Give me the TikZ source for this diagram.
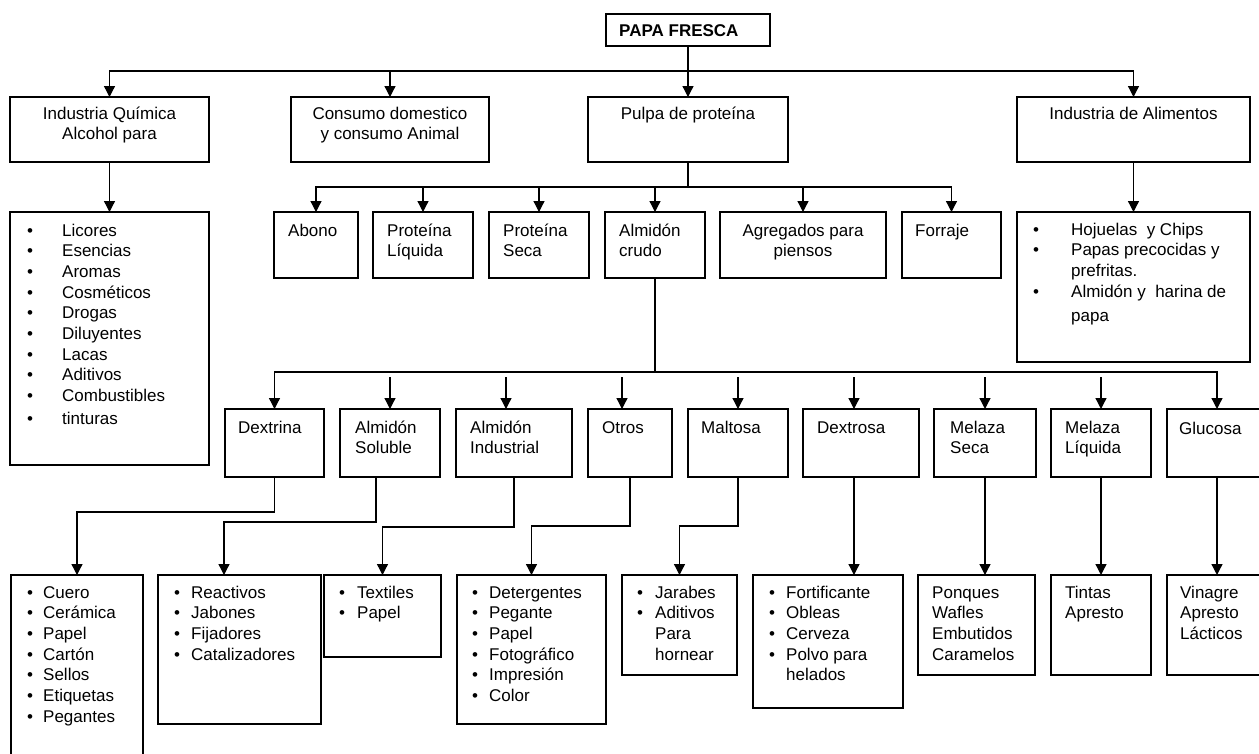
\documentclass[tikz,border=0pt]{standalone}
\usepackage{fontspec}
\setmainfont{Liberation Sans}
\usetikzlibrary{arrows.meta}
\newcommand{\punto}[1]{\makebox[#1][l]{\textbullet}}

\tikzset{
  caja/.style={draw, line width=1.3pt, inner sep=0pt, outer sep=0pt, anchor=north west},
  texto/.style={inner sep=0pt, anchor=base west, font=\fontsize{17}{20.7}\selectfont},
  centrado/.style={texto, anchor=base},
  linea/.style={line width=1.3pt},
  flecha/.style={line width=1.3pt, -{Triangle[length=11pt,width=11pt]}}
}

\begin{document}
\begin{tikzpicture}[x=1pt,y=-1pt]
    \useasboundingbox (0,0) rectangle (1259,753);
    \fill[white] (0,0) rectangle (1259,753);
    \clip (0,0) rectangle (1259,753);
    \coordinate (nivel1) at (0,71);
    \coordinate (nivel2) at (0,187);
    \coordinate (nivel3) at (0,372);

    \node[caja, minimum width=164pt, minimum height=32pt] (papa) at (606,14) {};
    \node[texto, font=\bfseries\fontsize{17}{20.7}\selectfont] (papa-txt) at ([xshift=13pt,yshift=-22pt]papa.north west) {PAPA FRESCA};

    \node[caja, minimum width=199pt, minimum height=65pt] (quimica) at (10,97) {};
    \node[caja, minimum width=198pt, minimum height=65pt] (consumo) at (291,97) {};
    \node[caja, minimum width=200pt, minimum height=65pt] (pulpa) at (588,97) {};
    \node[caja, minimum width=233pt, minimum height=65pt] (alimentos) at (1017,97) {};
    \node[centrado] (quimica-txt) at ([yshift=-22pt]quimica.north) {\begin{tabular}[t]{@{}c@{}}Industria Química\\Alcohol para\end{tabular}};
    \node[centrado] (consumo-txt) at ([yshift=-22pt]consumo.north) {\begin{tabular}[t]{@{}c@{}}Consumo domestico\\y consumo Animal\end{tabular}};
    \node[centrado] (pulpa-txt) at ([yshift=-22pt]pulpa.north) {Pulpa de proteína};
    \node[centrado] (alimentos-txt) at ([yshift=-22pt]alimentos.north) {Industria de Alimentos};

    \node[caja, minimum width=199pt, minimum height=253pt] (alcohol) at (10,212) {};
    \node[texto] (alcohol-txt) at ([xshift=17pt,yshift=-24pt]alcohol.north west) {\begin{tabular}[t]{@{}l@{}}
      \punto{35pt}Licores\\ \punto{35pt}Esencias\\ \punto{35pt}Aromas\\ \punto{35pt}Cosméticos\\
      \punto{35pt}Drogas\\ \punto{35pt}Diluyentes\\ \punto{35pt}Lacas\\ \punto{35pt}Aditivos\\
      \punto{35pt}Combustibles\\[2pt] \punto{35pt}tinturas\end{tabular}};
    \node[caja, minimum width=233pt, minimum height=150pt] (productos) at (1017,212) {};
    \node[texto] (productos-txt) at ([xshift=16pt,yshift=-23pt]productos.north west) {\begin{tabular}[t]{@{}l@{}}
      \punto{38pt}Hojuelas\ \ y Chips\\ \punto{38pt}Papas precocidas y\\ \hspace{38pt}prefritas.\\
      \punto{38pt}Almidón y\ \ harina de\\[4pt] \hspace{38pt}papa\end{tabular}};

    \node[caja, minimum width=84pt, minimum height=66pt] (abono) at (274,212) {};
    \node[caja, minimum width=100pt, minimum height=66pt] (protliq) at (373,212) {};
    \node[caja, minimum width=100pt, minimum height=66pt] (protseca) at (489,212) {};
    \node[caja, minimum width=100pt, minimum height=66pt] (crudo) at (605,212) {};
    \node[caja, minimum width=166pt, minimum height=66pt] (agregados) at (720,212) {};
    \node[caja, minimum width=99pt, minimum height=66pt] (forraje) at (902,212) {};
    \node[texto] (abono-txt) at ([xshift=14pt,yshift=-24pt]abono.north west) {Abono};
    \node[texto] (protliq-txt) at ([xshift=14pt,yshift=-24pt]protliq.north west) {\begin{tabular}[t]{@{}l@{}}Proteína\\Líquida\end{tabular}};
    \node[texto] (protseca-txt) at ([xshift=14pt,yshift=-24pt]protseca.north west) {\begin{tabular}[t]{@{}l@{}}Proteína\\Seca\end{tabular}};
    \node[texto] (crudo-txt) at ([xshift=14pt,yshift=-24pt]crudo.north west) {\begin{tabular}[t]{@{}l@{}}Almidón\\crudo\end{tabular}};
    \node[centrado] (agregados-txt) at ([yshift=-24pt]agregados.north) {\begin{tabular}[t]{@{}c@{}}Agregados para\\piensos\end{tabular}};
    \node[texto] (forraje-txt) at ([xshift=13pt,yshift=-24pt]forraje.north west) {Forraje};

    \node[caja, minimum width=99pt, minimum height=68pt] (dextrina) at (225,409) {};
    \node[caja, minimum width=100pt, minimum height=68pt] (soluble) at (340,409) {};
    \node[caja, minimum width=116pt, minimum height=68pt] (industrial) at (456,409) {};
    \node[caja, minimum width=84pt, minimum height=68pt] (otros) at (588,409) {};
    \node[caja, minimum width=100pt, minimum height=68pt] (maltosa) at (688,409) {};
    \node[caja, minimum width=116pt, minimum height=68pt] (dextrosa) at (803,409) {};
    \node[caja, minimum width=102pt, minimum height=68pt] (melseca) at (934,409) {};
    \node[caja, minimum width=100pt, minimum height=68pt] (melliq) at (1051,409) {};
    \node[caja, minimum width=100pt, minimum height=68pt] (glucosa) at (1167,409) {};
    \node[texto] (dextrina-txt) at ([xshift=13pt,yshift=-24pt]dextrina.north west) {Dextrina};
    \node[texto] (soluble-txt) at ([xshift=15pt,yshift=-24pt]soluble.north west) {\begin{tabular}[t]{@{}l@{}}Almidón\\Soluble\end{tabular}};
    \node[texto] (industrial-txt) at ([xshift=14pt,yshift=-24pt]industrial.north west) {\begin{tabular}[t]{@{}l@{}}Almidón\\Industrial\end{tabular}};
    \node[texto] (otros-txt) at ([xshift=14pt,yshift=-24pt]otros.north west) {Otros};
    \node[texto] (maltosa-txt) at ([xshift=13pt,yshift=-24pt]maltosa.north west) {Maltosa};
    \node[texto] (dextrosa-txt) at ([xshift=14pt,yshift=-24pt]dextrosa.north west) {Dextrosa};
    \node[texto] (melseca-txt) at ([xshift=16pt,yshift=-24pt]melseca.north west) {\begin{tabular}[t]{@{}l@{}}Melaza\\Seca\end{tabular}};
    \node[texto] (melliq-txt) at ([xshift=14pt,yshift=-24pt]melliq.north west) {\begin{tabular}[t]{@{}l@{}}Melaza\\Líquida\end{tabular}};
    \node[texto] (glucosa-txt) at ([xshift=12pt,yshift=-25pt]glucosa.north west) {Glucosa};

    \node[caja, minimum width=132pt, minimum height=200pt] (usosdextrina) at (11,575) {};
    \node[caja, minimum width=163pt, minimum height=149pt] (usossoluble) at (158,575) {};
    \node[caja, minimum width=117pt, minimum height=82pt] (usosindustrial) at (324,575) {};
    \node[caja, minimum width=149pt, minimum height=149pt] (usosotros) at (457,575) {};
    \node[caja, minimum width=115pt, minimum height=100pt] (usosmaltosa) at (622,575) {};
    \node[caja, minimum width=150pt, minimum height=133pt] (usosdextrosa) at (753,575) {};
    \node[caja, minimum width=117pt, minimum height=100pt] (usosmelseca) at (918,575) {};
    \node[caja, minimum width=100pt, minimum height=100pt] (usosmelliq) at (1051,575) {};
    \node[caja, minimum width=100pt, minimum height=100pt] (usosglucosa) at (1167,575) {};
    \node[texto] (usosdextrina-txt) at ([xshift=16pt,yshift=-23pt]usosdextrina.north west) {\begin{tabular}[t]{@{}l@{}}
      \punto{16pt}Cuero\\ \punto{16pt}Cerámica\\ \punto{16pt}Papel\\ \punto{16pt}Cartón\\
      \punto{16pt}Sellos\\ \punto{16pt}Etiquetas\\ \punto{16pt}Pegantes\end{tabular}};
    \node[texto] (usossoluble-txt) at ([xshift=16pt,yshift=-23pt]usossoluble.north west) {\begin{tabular}[t]{@{}l@{}}
      \punto{17pt}Reactivos\\ \punto{17pt}Jabones\\ \punto{17pt}Fijadores\\ \punto{17pt}Catalizadores\end{tabular}};
    \node[texto] (usosindustrial-txt) at ([xshift=15pt,yshift=-23pt]usosindustrial.north west) {\begin{tabular}[t]{@{}l@{}}
      \punto{18pt}Textiles\\ \punto{18pt}Papel\end{tabular}};
    \node[texto] (usosotros-txt) at ([xshift=15pt,yshift=-23pt]usosotros.north west) {\begin{tabular}[t]{@{}l@{}}
      \punto{17pt}Detergentes\\ \punto{17pt}Pegante\\ \punto{17pt}Papel\\ \punto{17pt}Fotográfico\\
      \punto{17pt}Impresión\\ \punto{17pt}Color\end{tabular}};
    \node[texto] (usosmaltosa-txt) at ([xshift=15pt,yshift=-23pt]usosmaltosa.north west) {\begin{tabular}[t]{@{}l@{}}
      \punto{18pt}Jarabes\\ \punto{18pt}Aditivos\\ \hspace{18pt}Para\\ \hspace{18pt}hornear\end{tabular}};
    \node[texto] (usosdextrosa-txt) at ([xshift=16pt,yshift=-23pt]usosdextrosa.north west) {\begin{tabular}[t]{@{}l@{}}
      \punto{17pt}Fortificante\\ \punto{17pt}Obleas\\ \punto{17pt}Cerveza\\ \punto{17pt}Polvo para\\
      \hspace{17pt}helados\end{tabular}};
    \node[texto] (usosmelseca-txt) at ([xshift=14pt,yshift=-23pt]usosmelseca.north west) {\begin{tabular}[t]{@{}l@{}}
      Ponques\\Wafles\\Embutidos\\Caramelos\end{tabular}};
    \node[texto] (usosmelliq-txt) at ([xshift=14pt,yshift=-23pt]usosmelliq.north west) {\begin{tabular}[t]{@{}l@{}}
      Tintas\\Apresto\end{tabular}};
    \node[texto] (usosglucosa-txt) at ([xshift=13pt,yshift=-23pt]usosglucosa.north west) {\begin{tabular}[t]{@{}l@{}}
      Vinagre\\Apresto\\Lácticos\end{tabular}};

    \draw[linea] (papa.south) -- (papa.south |- nivel1);
    \draw[flecha] (papa.south |- nivel1) -| (quimica.north);
    \draw[flecha] (papa.south |- nivel1) -| (alimentos.north);
    \draw[flecha] (consumo.north |- nivel1) -- (consumo.north);
    \draw[flecha] (papa.south) -- (pulpa.north);
    \draw[flecha] (quimica.south) -- (alcohol.north);
    \draw[flecha] (alimentos.south) -- (productos.north);

    \draw[linea] (pulpa.south) -- (pulpa.south |- nivel2);
    \draw[flecha] (pulpa.south |- nivel2) -| (abono.north);
    \draw[flecha] (pulpa.south |- nivel2) -| (forraje.north);
    \foreach \n in {protliq, protseca, crudo, agregados}
      \draw[flecha] (\n.north |- nivel2) -- (\n.north);

    \draw[linea] (crudo.south) -- (crudo.south |- nivel3);
    \draw[flecha] (crudo.south |- nivel3) -| (dextrina.north);
    \draw[flecha] (crudo.south |- nivel3) -| (glucosa.north);
    \foreach \n/\d in {soluble/0, industrial/-8, otros/-8, maltosa/0, dextrosa/-7, melseca/0, melliq/0}
      \draw[flecha] ([xshift=\d pt,yshift=32pt]\n.north) -- ([xshift=\d pt]\n.north);

    \draw[flecha] (dextrina.south) -- ++(0,35) -| (usosdextrina.north);
    \draw[flecha] ([xshift=-14pt]soluble.south) -- ++(0,45) -| ([xshift=-15.5pt]usossoluble.north);
    \draw[flecha] (industrial.south) -- ++(0,50) -| (usosindustrial.north);
    \draw[flecha] (otros.south) -- ++(0,49) -| (usosotros.north);
    \draw[flecha] (maltosa.south) -- ++(0,49) -| (usosmaltosa.north);
    \draw[flecha] ([xshift=-7pt]dextrosa.south) -- ([xshift=26pt]usosdextrosa.north);
    \draw[flecha] (melseca.south) -- ([xshift=8.5pt]usosmelseca.north);
    \draw[flecha] (melliq.south) -- (usosmelliq.north);
    \draw[flecha] (glucosa.south) -- (usosglucosa.north);
\end{tikzpicture}
\end{document}
